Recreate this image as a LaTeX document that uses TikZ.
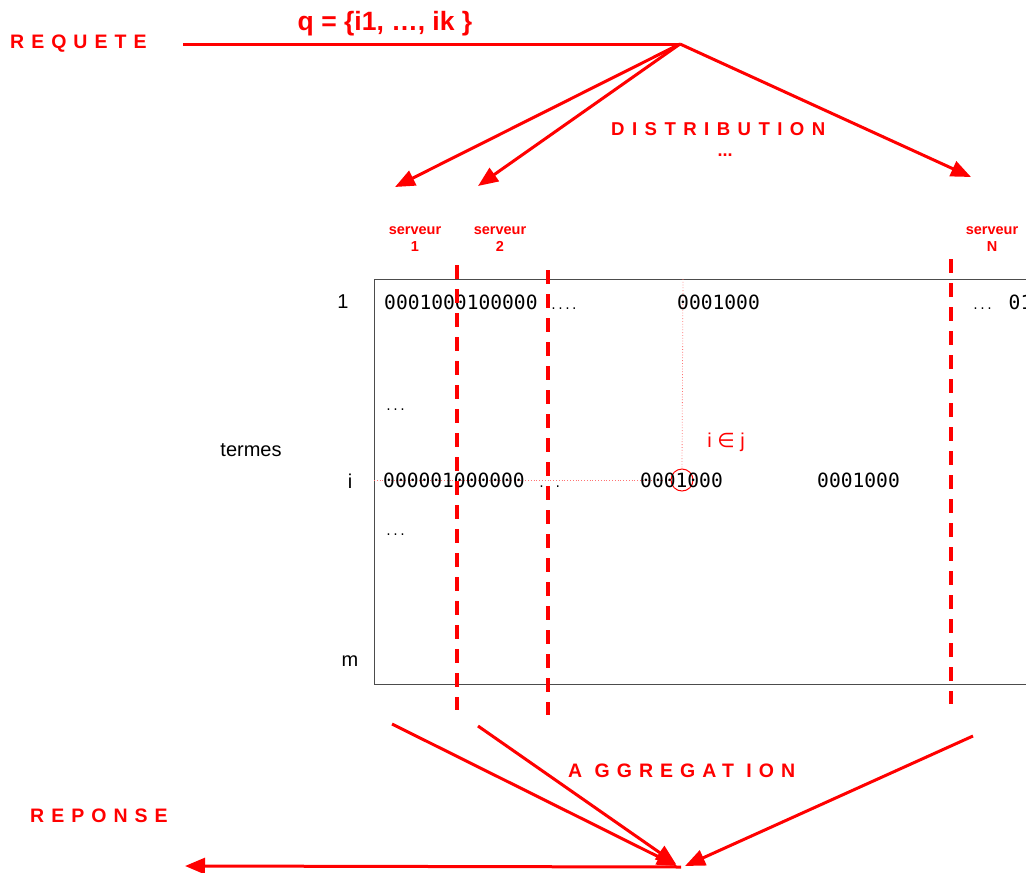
\documentclass[tikz,border=0pt]{standalone}
\usepackage{fontspec}
\setmainfont{Liberation Sans}
\newfontfamily\spacedfont[LetterSpace=36]{Liberation Sans}
\newfontfamily\monof{DejaVu Sans Mono}
\newfontfamily\symf{DejaVu Sans}
\usetikzlibrary{arrows.meta}
\definecolor{rred}{RGB}{255,0,0}
\begin{document}
\begin{tikzpicture}[x=1pt,y=-1pt,
  redline/.style={draw=rred,line width=3pt},
  redarrow/.style={redline,-{Triangle[length=20pt,width=16pt]}},
  title/.style={text=rred,font=\spacedfont\bfseries\fontsize{19.5}{20}\selectfont,inner sep=0pt,anchor=west},
  srv/.style={text=rred,font=\bfseries\fontsize{14.5}{17}\selectfont,align=center,inner sep=0pt},
  bits/.style={font=\monof\fontsize{19.6}{20}\selectfont,inner sep=0pt,anchor=base west},
  smalldots/.style={font=\monof\fontsize{11.5}{12}\selectfont,inner sep=0pt,anchor=base west},
  rowlab/.style={font=\fontsize{20}{22}\selectfont,inner sep=0pt},
  cut/.style={draw=rred,line width=4pt,dash pattern=on 14pt off 10pt},
  guide/.style={draw=rred!55,line width=0.8pt,dotted}]
\useasboundingbox (0,0) rectangle (1026,873);

% labels
\node[title] (req) at (10,44) {REQUETE};
\node[text=rred,font=\bfseries\fontsize{26.5}{28}\selectfont,inner sep=0pt] (q) at (385,24) {q = \{i1, \dots, ik \}};
\node[title,font=\spacedfont\addfontfeature{LetterSpace=40}\bfseries\fontsize{18.6}{20}\selectfont] (dist) at (611,129) {DISTRIBUTION};
\node[text=rred,font=\bfseries\fontsize{18}{18}\selectfont,inner sep=0pt,anchor=base] (ddots) at (725,156) {...};
\node[title] (agg) at (568,771) {A GGREGAT ION};
\node[title] (rep) at (30,816) {REPONSE};

% request distribution
\coordinate (rs) at (183,44);
\coordinate (apex) at (680,44);
\coordinate (s1) at (395,187);
\coordinate (s2) at (478,186);
\coordinate (sN) at (971,177);
\draw[redline] (rs) -- (apex);
\draw[redarrow] (apex) -- (s1);
\draw[redarrow] (apex) -- (s2);
\draw[redarrow] (apex) -- (sN);

% servers
\node[srv] (sv1) at (415,239) {serveur\\1};
\node[srv] (sv2) at (500,239) {serveur\\2};
\node[srv] (svN) at (992,239) {serveur\\N};

% matrix box
\coordinate (boxtl) at (374,279);
\coordinate (boxbr) at (1040,684);
\draw[black!70,line width=1pt] (boxtl) rectangle (boxbr);

% row labels
\node[rowlab] (r1) at (343,302) {1};
\node[rowlab] (ri) at (350,481) {i};
\node[rowlab] (rm) at (350,661) {m};
\node[rowlab] (termes) at (251,450) {termes};

% guides
\coordinate (gtop) at (683,279);
\coordinate (gleft) at (374,480);
\node[draw=rred,circle,minimum size=22pt,inner sep=0pt,line width=1pt] (circ) at (682,480) {};
\draw[guide] (gtop) -- (circ.north);
\draw[guide] (gleft) -- (circ.west);

% bits
\node[bits] (b11) at (384,309) {0001000100000};
\node[smalldots] (b12) at (550,309) {....};
\node[bits] (b13) at (677,309) {0001000};
\node[bits] (b14) at (972,309) {{\fontsize{11.5}{12}\selectfont...} 01};
\node[smalldots] (d1) at (385,410) {...};
\node[bits] (bi1) at (383,487) {000001000000};
\node[smalldots] (bi2) at (538,487) {. .};
\node[bits] (bi3) at (640,487) {0001000};
\node[bits] (bi4) at (817,487) {0001000};
\node[smalldots] (d2) at (385,535) {...};
\node[text=rred,font=\fontsize{20}{22}\selectfont,inner sep=0pt] (iinj) at (726,442) {i {\symf∈} j};

% server cuts
\coordinate (c1a) at (457,265); \coordinate (c1b) at (457,710);
\coordinate (c2a) at (548,270); \coordinate (c2b) at (548,715);
\coordinate (c3a) at (951,259); \coordinate (c3b) at (951,704);
\draw[cut] (c1a) -- (c1b);
\draw[cut] (c2a) -- (c2b);
\draw[cut] (c3a) -- (c3b);

% aggregation
\coordinate (a1) at (392,724);
\coordinate (a2) at (478,726);
\coordinate (a3) at (973,736);
\coordinate (t1) at (677,866);
\coordinate (t2) at (676,864);
\coordinate (t3) at (685,866);
\coordinate (rstart) at (681,867);
\coordinate (rend) at (185,866);
\draw[redarrow] (a1) -- (t1);
\draw[redarrow] (a2) -- (t2);
\draw[redarrow] (a3) -- (t3);
\draw[redarrow] (rstart) -- (rend);
\end{tikzpicture}
\end{document}
